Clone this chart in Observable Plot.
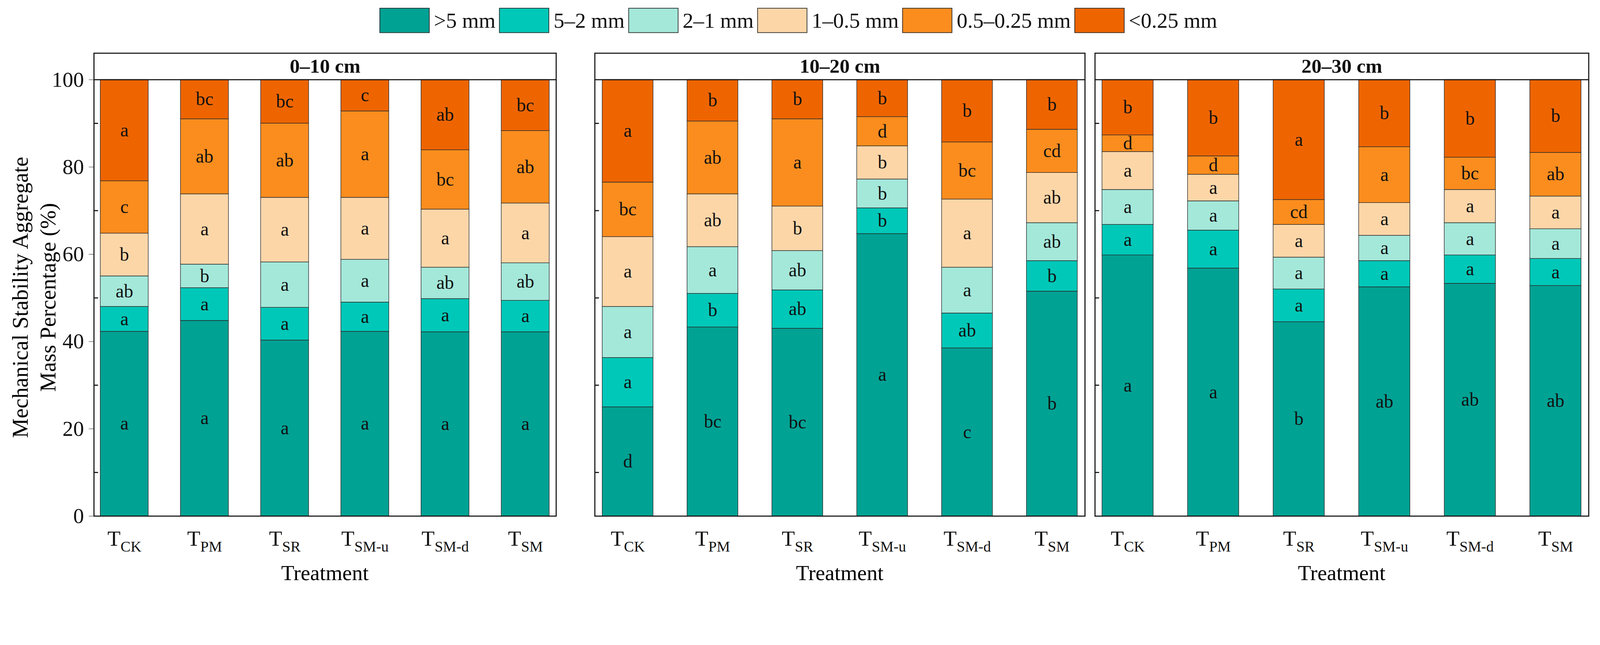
<!DOCTYPE html>
<html><head><meta charset="utf-8">
<script src="https://cdn.jsdelivr.net/npm/d3@7"></script>
<script src="https://cdn.jsdelivr.net/npm/@observablehq/plot@0.6"></script>
<style>
html,body{margin:0;background:#fff;font-family:"Liberation Serif",serif;overflow:hidden;}
#wrap{position:relative;width:4469px;height:1650px;overflow:hidden;transform-origin:0 0;}
.abs{position:absolute;}
.lg{display:flex;align-items:center;font-size:60px;color:#111;}
.sw{width:140px;height:70px;border:2px solid #333;box-sizing:border-box;margin-right:12px;margin-left:10px}
</style></head><body><div id="wrap"></div>
<script>
const treatments = ["CK","PM","SR","SM-u","SM-d","SM"];
const depths = ["0–10 cm","10–20 cm","20–30 cm"];
const classes = [">5 mm","5–2 mm","2–1 mm","1–0.5 mm","0.5–0.25 mm","<0.25 mm"];
const colors = ["#00A294","#00C8B8","#A4E8DA","#FDD6A8","#FB8D1E","#EE6500"];
// cumulative upper bounds per class (bottom to top), per treatment
const cum0 = [
 [42.3,48.0,55.0,64.8,76.8,100],
 [44.8,52.3,57.7,73.8,91.0,100],
 [40.3,47.8,58.2,73.0,90.0,100],
 [42.3,49.0,58.8,73.0,92.8,100],
 [42.2,49.8,57.0,70.3,83.9,100],
 [42.2,49.4,58.0,71.7,88.3,100]];
const cum1 = [
 [25.0,36.3,48.0,64.0,76.5,100],
 [43.3,51.0,61.7,73.8,90.5,100],
 [43.0,51.8,60.8,71.0,91.0,100],
 [64.7,70.6,77.2,84.8,91.5,100],
 [38.5,46.5,57.0,72.6,85.7,100],
 [51.5,58.5,67.2,78.7,88.6,100]];
const cum2 = [
 [59.8,66.8,74.8,83.5,87.3,100],
 [56.8,65.5,72.2,78.3,82.5,100],
 [44.5,52.0,59.3,66.8,72.5,100],
 [52.5,58.5,64.3,71.8,84.6,100],
 [53.3,59.8,67.2,74.8,82.2,100],
 [52.8,59.0,65.8,73.3,83.3,100]];
const let0 = [
 ["a","a","ab","b","c","a"],["a","a","b","a","ab","bc"],["a","a","a","a","ab","bc"],
 ["a","a","a","a","a","c"],["a","a","ab","a","bc","ab"],["a","a","ab","a","ab","bc"]];
const let1 = [
 ["d","a","a","a","bc","a"],["bc","b","a","ab","ab","b"],["bc","ab","ab","b","a","b"],
 ["a","b","b","b","d","b"],["c","ab","a","a","bc","b"],["b","b","ab","ab","cd","b"]];
const let2 = [
 ["a","a","a","a","d","b"],["a","a","a","a","d","b"],["b","a","a","a","cd","a"],
 ["ab","a","a","a","a","b"],["ab","a","a","a","bc","b"],["ab","a","a","a","ab","b"]];
const cums=[cum0,cum1,cum2], lets=[let0,let1,let2];
const wrap=document.getElementById("wrap");
const sc=Math.min(window.innerWidth/4469, window.innerHeight/1650);
wrap.style.transform=`scale(${sc})`;
const layout=[{left:0,ml:262,inner:1291},{left:1651,ml:10,inner:1369},{left:3048,ml:10,inner:1379}];
const TOP=106.08;
depths.forEach((dep,di)=>{
  const rows=[];
  treatments.forEach((t,ti)=>classes.forEach((c,ci)=>{
    const y1=ci===0?0:cums[di][ti][ci-1], y2=cums[di][ti][ci];
    rows.push({t,c,ci,y1,y2,lab:lets[di][ti][ci]});
  }));
  const L=layout[di];
  const plot=Plot.plot({
    width:L.ml+L.inner+10,height:1510,marginLeft:L.ml,marginRight:10,marginTop:8,marginBottom:210,
    style:{fontFamily:"Liberation Serif, serif",fontSize:"60px",color:"#111",background:"transparent"},
    x:{domain:treatments,padding:0.4,paddingOuter:0.08,label:null,tickSize:0,tickPadding:40},
    y:{domain:[0,TOP],label:null,ticks:di===0?[0,20,40,60,80,100]:[],tickSize:di===0?14:0,tickPadding:14},
    color:{domain:classes,range:colors},
    marks:[
      Plot.rectY(rows,{x:"t",y1:"y1",y2:"y2",fill:"c",stroke:"#2a2a2a",strokeWidth:1.5}),
      Plot.text(rows,{x:"t",y:d=>(d.y1+d.y2)/2,text:"lab",fontSize:52,fill:"#111"}),
      Plot.tickY([10,30,50,70,90],{stroke:"#111",strokeWidth:3,inset:0,x:null,
        render:(i,s,v,dim,ctx,next)=>{const g=next(i,s,v,dim,ctx);
          g.querySelectorAll("line").forEach(l=>{l.setAttribute("x1",dim.marginLeft);l.setAttribute("x2",dim.marginLeft+12);});return g;}}),
      Plot.ruleY([100],{stroke:"#111",strokeWidth:3}),
      Plot.text([dep],{frameAnchor:"top",dy:37,lineAnchor:"middle",text:d=>d,fontSize:56,fontWeight:"bold"}),
      Plot.frame({stroke:"#111",strokeWidth:3})
    ]
  });
  plot.querySelectorAll('[aria-label="x-axis tick label"] text').forEach(tx=>{
    const s=tx.textContent; tx.textContent="T";
    const ts=document.createElementNS("http://www.w3.org/2000/svg","tspan");
    ts.setAttribute("font-size","42"); ts.setAttribute("dy","0.4em"); ts.textContent=s; tx.appendChild(ts);
  });
  plot.style.position="absolute"; plot.style.left=L.left+"px"; plot.style.top="140px";
  wrap.appendChild(plot);
  const tr=document.createElement("div"); tr.className="abs"; tr.textContent="Treatment";
  tr.style.cssText=`left:${L.left+L.ml}px;width:${L.inner}px;top:1565px;text-align:center;font-size:60px;`;
  wrap.appendChild(tr);
});
// y titles
[["Mechanical Stability Aggregate",57],["Mass Percentage (%)",134]].forEach(([t,x])=>{
  const d=document.createElement("div"); d.className="abs"; d.textContent=t;
  d.style.cssText=`left:${x}px;top:830px;font-size:62px;white-space:nowrap;transform:translate(-50%,-50%) rotate(-90deg);`;
  wrap.appendChild(d);
});
// legend
const lg=document.createElement("div"); lg.className="abs lg"; lg.style.left="1050px"; lg.style.top="22px";
classes.forEach((c,i)=>{const s=document.createElement("div");s.className="sw";s.style.background=colors[i];
  const t=document.createElement("span");t.textContent=c;lg.appendChild(s);lg.appendChild(t);});
wrap.appendChild(lg);
</script></body></html>
